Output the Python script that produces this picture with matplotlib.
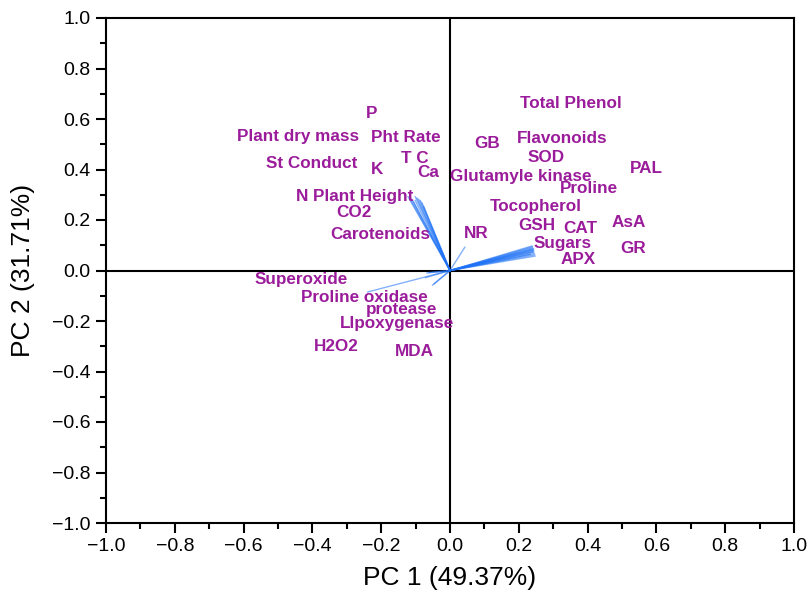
import matplotlib
matplotlib.use("Agg")
import matplotlib.pyplot as plt
from matplotlib.ticker import MultipleLocator
import numpy as np

# variable names, label positions, loading vector endpoints
names = ["Total Phenol", "P", "Plant dry mass", "Pht Rate", "GB", "Flavonoids",
         "St Conduct", "K", "T C", "Ca", "SOD", "PAL", "Glutamyle kinase", "Proline",
         "N", "Plant Height", "CO2", "Tocopherol", "Carotenoids", "NR", "GSH", "CAT",
         "AsA", "Sugars", "GR", "APX", "Superoxide", "Proline oxidase", "protease",
         "LIpoxygenase", "H2O2", "MDA"]
label_x = [0.352, -0.227, -0.443, -0.128, 0.107, 0.326,
           -0.401, -0.212, -0.102, -0.064, 0.278, 0.572, 0.206, 0.405,
           -0.430, -0.253, -0.279, 0.250, -0.203, 0.076, 0.253, 0.380,
           0.520, 0.326, 0.532, 0.372, -0.433, -0.250, -0.140,
           -0.154, -0.332, -0.104]
label_y = [0.662, 0.621, 0.531, 0.527, 0.503, 0.523,
           0.424, 0.400, 0.444, 0.389, 0.448, 0.404, 0.373, 0.325,
           0.294, 0.294, 0.231, 0.254, 0.144, 0.148, 0.180, 0.168,
           0.191, 0.105, 0.089, 0.045, -0.037, -0.108, -0.156,
           -0.211, -0.302, -0.321]
vec_x = [0.238, -0.122, -0.117, -0.101, 0.240, 0.239,
         -0.111, -0.096, -0.091, -0.086, 0.241, 0.243, 0.240, 0.242,
         -0.106, -0.101, -0.081, 0.243, -0.076, 0.043, 0.241, 0.243,
         0.245, 0.246, 0.247, 0.233, -0.067, -0.239, -0.071,
         -0.051, -0.061, -0.046]
vec_y = [0.097, 0.292, 0.287, 0.292, 0.094, 0.090,
         0.282, 0.287, 0.282, 0.277, 0.087, 0.085, 0.082, 0.080,
         0.272, 0.277, 0.267, 0.077, 0.252, 0.092, 0.074, 0.072,
         0.067, 0.062, 0.057, 0.064, -0.010, -0.085, -0.028,
         -0.058, -0.008, -0.053]

x_ticks = [-1.0, -0.8, -0.6, -0.4, -0.2, 0.0, 0.2, 0.4, 0.6, 0.8, 1.0]
y_ticks = [-1.0, -0.8, -0.6, -0.4, -0.2, 0.0, 0.2, 0.4, 0.6, 0.8, 1.0]

plt.rcParams['font.family'] = ['Liberation Sans', 'DejaVu Sans']
fig = plt.figure(figsize=(8.09, 6.06), dpi=100)
ax = fig.add_axes([106/809, 1 - 523/606, 688/809, 505/606])

ax.axhline(0, color='black', lw=1.5, zorder=1)
ax.axvline(0, color='black', lw=1.5, zorder=1)

for vx, vy in zip(vec_x, vec_y):
    ax.plot([0, vx], [0, vy], color='#1f72f5', lw=1.0, alpha=0.55, zorder=2)

for n, lx, ly in zip(names, label_x, label_y):
    ax.text(lx, ly, n, ha='center', va='center', fontsize=12.3, fontweight='bold',
            color='#9b1c9b', zorder=3)

ax.set_xlim(-1, 1)
ax.set_ylim(-1, 1)
ax.set_xticks(x_ticks)
ax.set_yticks(y_ticks)
ax.set_xticklabels([f"{t:.1f}".replace('-', '\u2212') for t in x_ticks])
ax.set_yticklabels([f"{t:.1f}".replace('-', '\u2212') for t in y_ticks])
ax.xaxis.set_minor_locator(MultipleLocator(0.1))
ax.yaxis.set_minor_locator(MultipleLocator(0.1))
ax.tick_params(which='major', direction='out', length=7, width=1.5, labelsize=14, pad=4)
ax.tick_params(which='minor', direction='out', length=4, width=1.5)
for s in ax.spines.values():
    s.set_linewidth(1.5)

ax.set_xlabel("PC 1 (49.37%)", fontsize=19, labelpad=8)
ax.set_ylabel("PC 2 (31.71%)", fontsize=19, labelpad=12)

fig.savefig("out.png", dpi=100)
